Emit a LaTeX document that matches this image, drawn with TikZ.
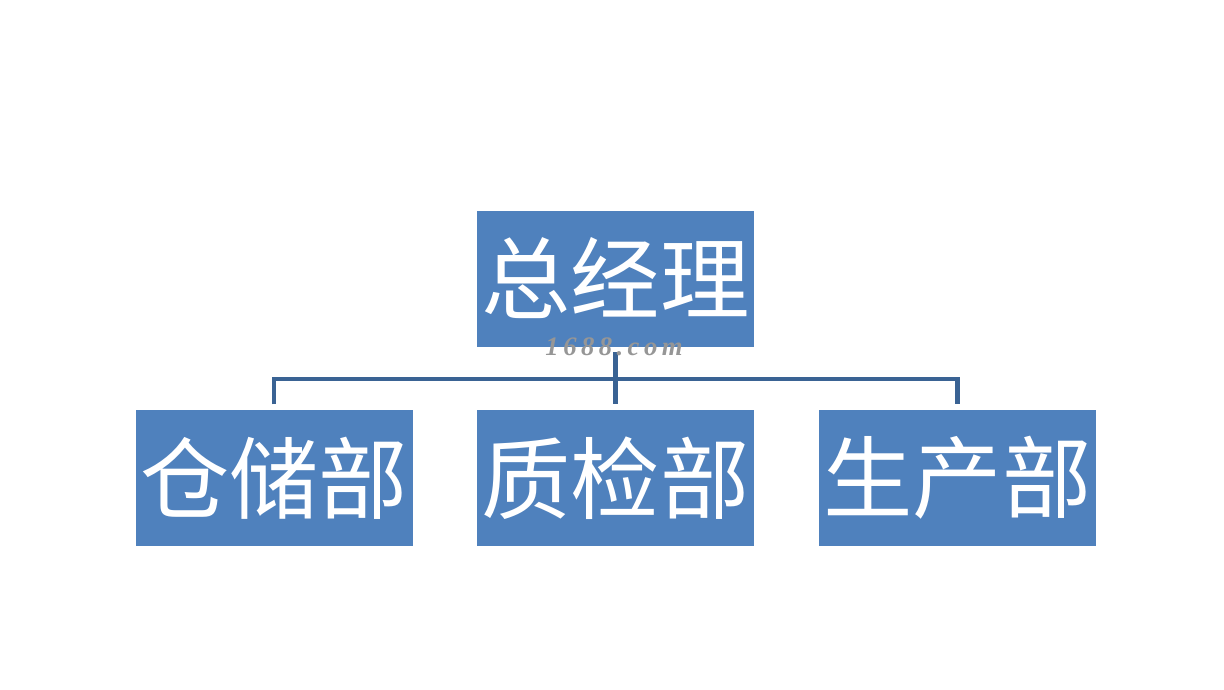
\documentclass[tikz,border=0pt]{standalone}
\usepackage{fontspec}
\usepackage{tikz}
\newfontfamily\cjk{Noto Sans CJK SC}
\setmainfont{Liberation Serif}
\definecolor{boxblue}{RGB}{79,129,189}
\definecolor{lineblue}{RGB}{58,99,148}
\definecolor{markgray}{RGB}{150,150,150}

\begin{document}
\begin{tikzpicture}[x=0.75pt, y=-0.75pt,
  dept/.style={fill=boxblue, minimum width=207.75pt, minimum height=102pt,
    inner sep=0pt, text=white, font=\cjk\fontsize{67}{67}\selectfont},
  link/.style={draw=lineblue, line width=3.6pt}]
  \useasboundingbox (0,0) rectangle (1224,689);
  % top: general manager
  \node[dept] (boss) at (615.5,278.5) {总经理};
  % bottom row: departments
  \node[dept] (cang) at (274,478) {仓储部};
  \node[dept] (zhi) at (615.5,478) {质检部};
  \node[dept] (sheng) at (957.5,478) {生产部};
  % connectors
  \coordinate (bus) at (615.5,379);
  \draw[link, shorten <=4pt, shorten >=4pt] (boss.south) -- (zhi.north);
  \draw[link, shorten <=4pt, shorten >=4pt] (cang.north) |- (bus) -| (sheng.north);
  % watermark
  \node[text=markgray, font=\bfseries\itshape\fontsize{20}{20}\selectfont]
    (mark) at (614,347) {1\,6\,8\,8\,.\,c\,o\,m};
\end{tikzpicture}
\end{document}
